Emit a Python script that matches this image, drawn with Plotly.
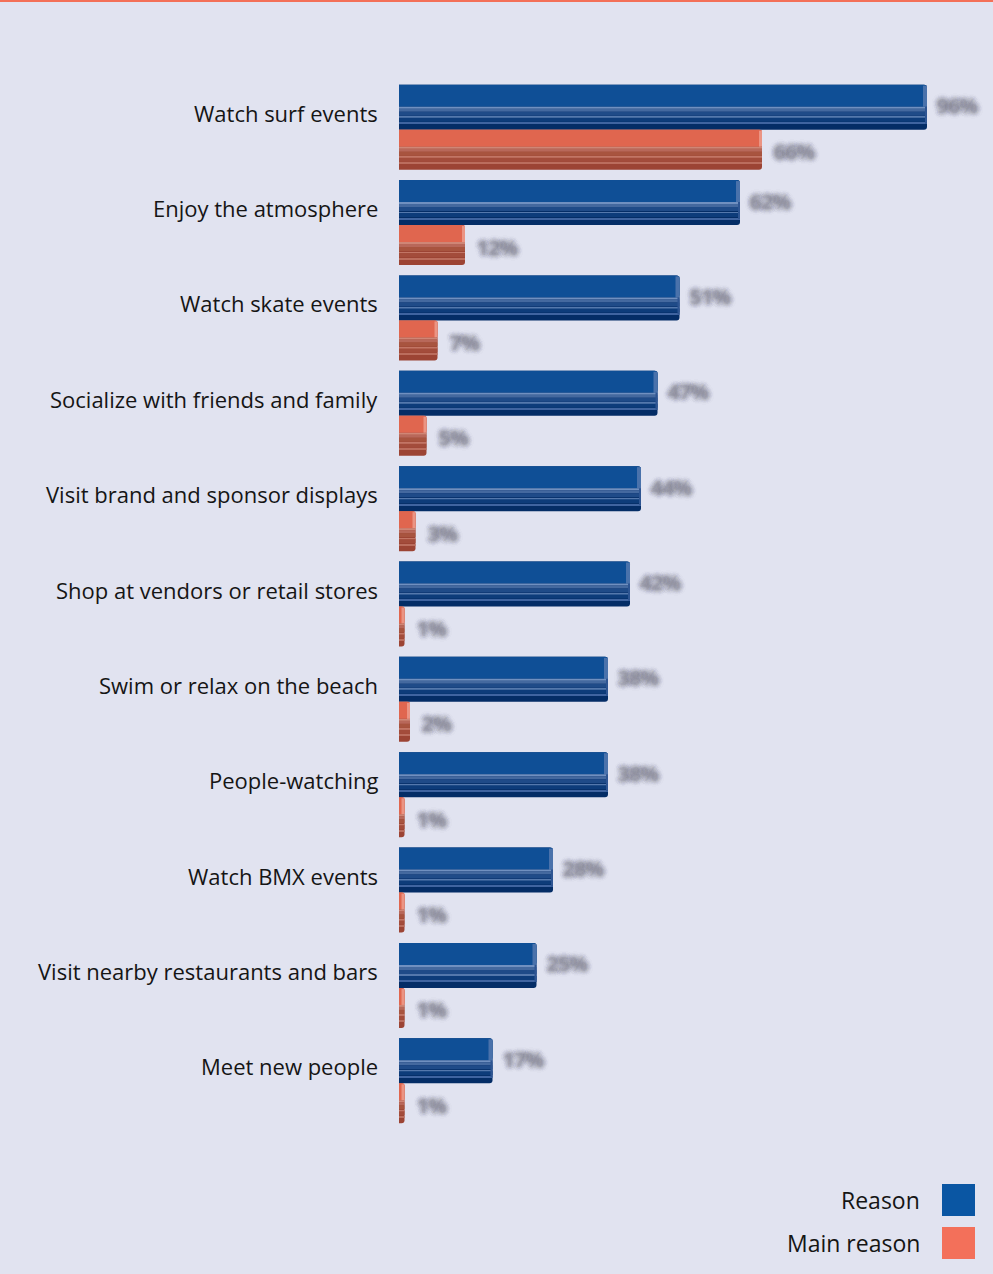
import plotly.graph_objects as go

# ---- data -------------------------------------------------------------
categories = [
    "Watch surf events",
    "Enjoy the atmosphere",
    "Watch skate events",
    "Socialize with friends and family",
    "Visit brand and sponsor displays",
    "Shop at vendors or retail stores",
    "Swim or relax on the beach",
    "People-watching",
    "Watch BMX events",
    "Visit nearby restaurants and bars",
    "Meet new people",
]
reason = [96, 62, 51, 47, 44, 42, 38, 38, 28, 25, 17]
main_reason = [66, 12, 7, 5, 3, 1, 2, 1, 1, 1, 1]
series_names = ["Reason", "Main reason"]

# ---- geometry ---------------------------------------------------------
W, H = 993, 1274
L, R, T, B = 399, 44, 80, 145
PLOT_W = W - L - R
PLOT_H = H - T - B
PITCH = PLOT_H / len(categories)
X_MAX = 100
PX_PER_UNIT_X = PLOT_W / X_MAX

BG = "#e1e3f0"
FONT = "Open Sans"


def u(px):
    """pixel offset -> y data units"""
    return px / PITCH


def xp(px):
    return (px - L) / PLOT_W


def yp(px):
    return 1 - (px - T) / PLOT_H


ys = list(range(len(categories)))
fig = go.Figure()


def band(values, top, bottom, color, radius=0, base=None):
    fig.add_trace(go.Bar(
        orientation="h", y=ys, x=values, base=base,
        offset=u(top), width=u(bottom - top),
        marker=dict(color=color, line=dict(width=0), cornerradius=radius),
        hoverinfo="skip", showlegend=False,
    ))


def cap(values, top, bottom, color, px):
    w = px / PX_PER_UNIT_X
    band([min(w, v) for v in values], top, bottom, color,
         base=[max(0, v - w) for v in values])


# Reason bars: bevelled blue slab
band(reason, -43, 2, "#042d66", radius=3)
band(reason, -43, -21, "#0f4f96", radius=3)
cap(reason, -42, -21, "#4a72ab", 4)
band(reason, -21, -19, "#7090c0")
band(reason, -19, -16, "#44699f")
band(reason, -16, -12, "#1f4b88")
band(reason, -11, -10, "#5478ac")
band(reason, -10, -6, "#0d3c7a")
band(reason, -5, -4, "#3f64a0")
cap(reason, -21, -4, "#2e5592", 2)

# Main reason bars: bevelled red slab
band(main_reason, 2, 42, "#9c4434", radius=3)
band(main_reason, 2, 19, "#e0664f", radius=2)
cap(main_reason, 3, 19, "#eb9483", 3)
band(main_reason, 19, 21, "#cf8676")
band(main_reason, 21, 24, "#b8685a")
band(main_reason, 24, 28, "#a8543f")
band(main_reason, 29, 30, "#c27565")
band(main_reason, 30, 34, "#a34c3b")
band(main_reason, 35, 36, "#bb6d5d")

annotations = []

# category labels
for i, name in enumerate(categories):
    annotations.append(dict(
        x=0, xref="paper", y=i, yref="y", text=name, showarrow=False,
        xanchor="right", yanchor="middle", xshift=-19, yshift=15,
        font=dict(family=FONT, size=22, color="#151515"),
    ))

# blurred value labels
shade = "#70707e"
blur = dict(family=FONT, size=20, color="rgba(120,120,134,0.13)",
            weight="bold",
            shadow=", ".join(
                [f"0px 0px 4px {shade}"] * 4
                + [f"0px 0px 5px {shade}"] * 4
                + [f"0px 0px 7px {shade}"] * 3))
for i, (a, b) in enumerate(zip(reason, main_reason)):
    annotations.append(dict(x=a, y=i + u(-22), text=f"{a}%", showarrow=False,
                            xanchor="left", yanchor="middle", xshift=8, font=blur))
    annotations.append(dict(x=b, y=i + u(24), text=f"{b}%", showarrow=False,
                            xanchor="left", yanchor="middle", xshift=10, font=blur))

# legend (right aligned text with swatch on the right)
legend_colors = ["#0a56a3", "#f3705a"]
legend_rows = [1200, 1243]
shapes = []
for name, col, yc in zip(series_names, legend_colors, legend_rows):
    annotations.append(dict(
        x=xp(922), xref="paper", y=yp(yc), yref="paper", text=name,
        showarrow=False, xanchor="right", yanchor="middle",
        font=dict(family=FONT, size=23, color="#151515"),
    ))
    shapes.append(dict(type="rect", xref="paper", yref="paper",
                       x0=xp(942), x1=xp(975), y0=yp(yc - 16), y1=yp(yc + 16),
                       fillcolor=col, line=dict(width=0), layer="above"))

# thin accent line along the top edge
shapes.append(dict(type="line", xref="paper", yref="paper",
                   x0=xp(0), x1=xp(W), y0=yp(1), y1=yp(1),
                   line=dict(color="#f37058", width=2)))

fig.update_layout(
    width=W, height=H,
    margin=dict(l=L, r=R, t=T, b=B, pad=0),
    paper_bgcolor=BG, plot_bgcolor=BG,
    barmode="overlay",
    showlegend=False,
    xaxis=dict(range=[0, X_MAX], visible=False, fixedrange=True),
    yaxis=dict(range=[len(categories) - 0.5, -0.5], visible=False, fixedrange=True),
    annotations=annotations,
    shapes=shapes,
)

fig.write_html("out.html", config={"displayModeBar": False})
